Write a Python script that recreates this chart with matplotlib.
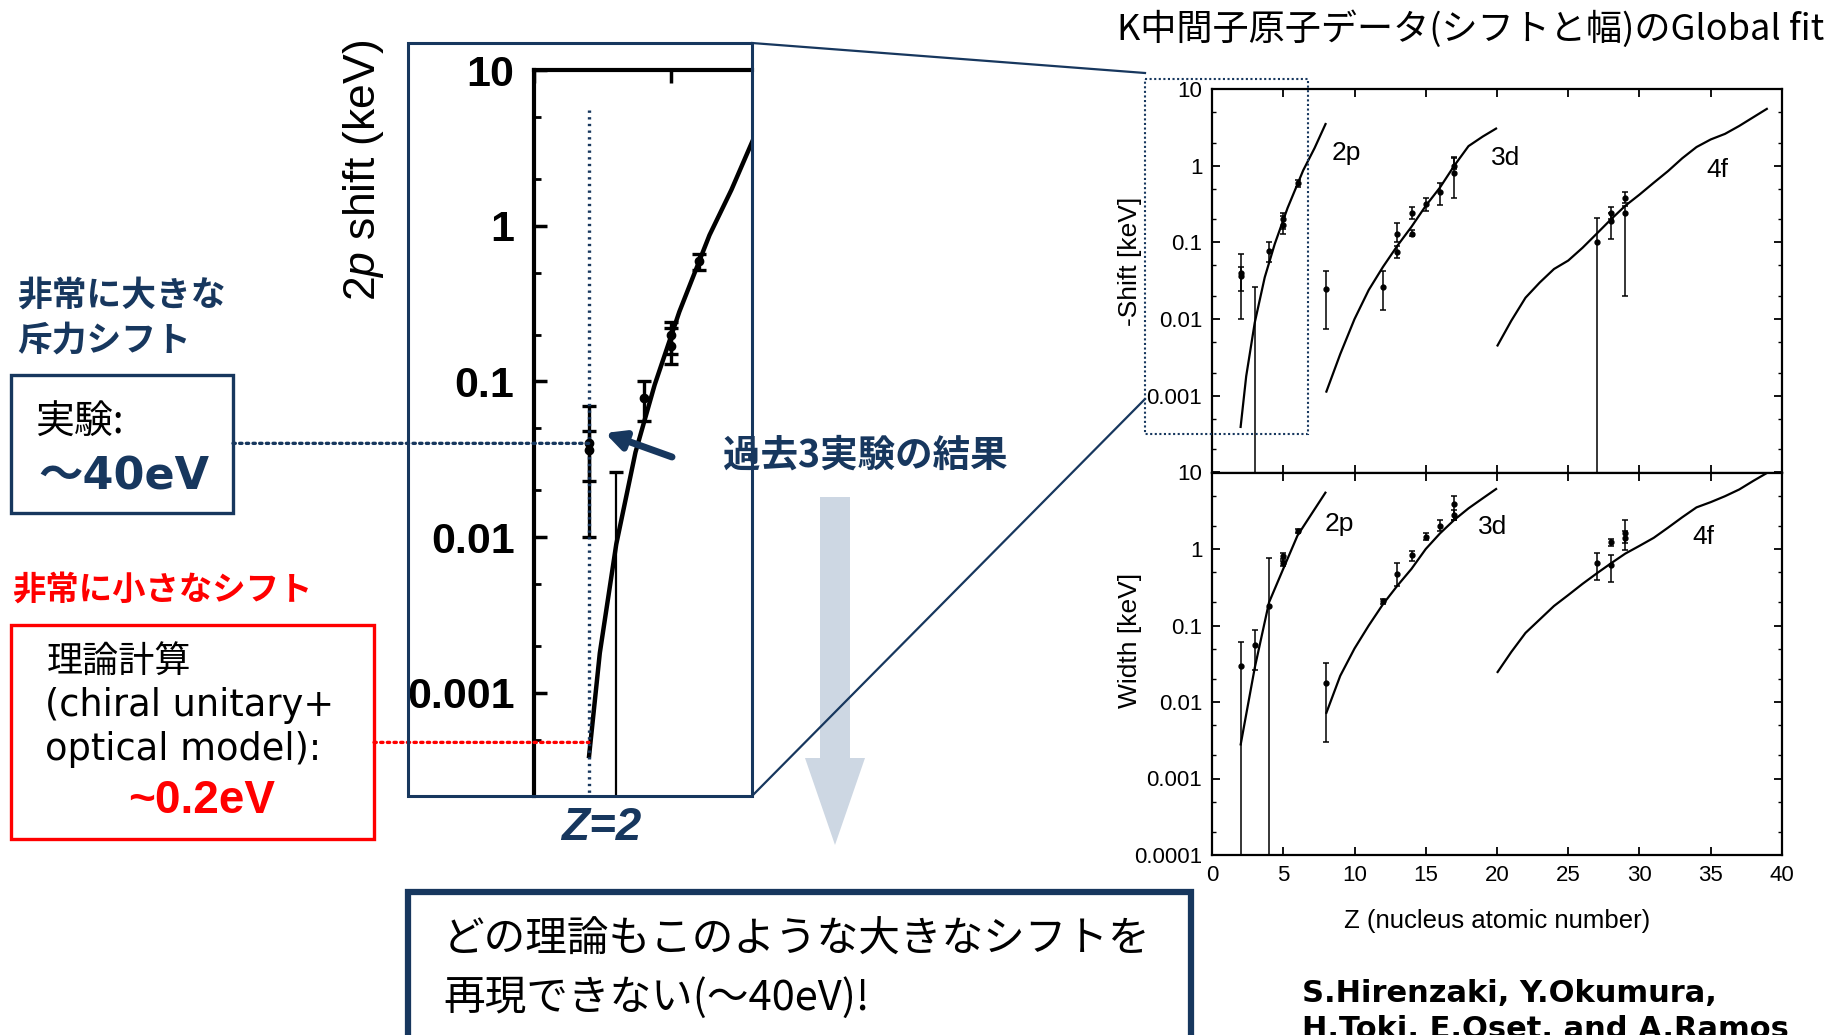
import numpy as np
import matplotlib
matplotlib.use('Agg')
import matplotlib.pyplot as plt
from matplotlib.patches import Rectangle, Polygon, ConnectionPatch
from matplotlib.ticker import FixedLocator, LogLocator, NullFormatter
from matplotlib.transforms import blended_transform_factory

plt.rcParams['font.family'] = ['Liberation Sans', 'DejaVu Sans']
plt.rcParams['mathtext.fontset'] = 'custom'
plt.rcParams['mathtext.rm'] = 'Liberation Sans'
plt.rcParams['mathtext.it'] = 'Liberation Sans:italic'
JP = ['Noto Sans CJK JP', 'DejaVu Sans']
LATIN_JP = ['DejaVu Sans', 'Noto Sans CJK JP']
NAVY = '#17375e'
RED = '#ff0000'

# ---------------- data (keV) ----------------
# calculated curves: -Shift
shift_2p_z = [2, 2.4, 3, 3.7, 4.4, 5.3, 6.4, 7.2, 8]
shift_2p = [0.00038, 0.0018, 0.009, 0.035, 0.095, 0.28, 0.87, 1.7, 3.6]
shift_3d_z = [8, 9, 10, 11, 12, 13, 14, 15, 16, 17, 18, 19, 20]
shift_3d = [0.0011, 0.0035, 0.01, 0.024, 0.048, 0.09, 0.16, 0.3, 0.52, 1.0, 1.8, 2.4, 3.1]
shift_4f_z = list(range(20, 40))
shift_4f = [0.0044, 0.0095, 0.019, 0.03, 0.045, 0.058, 0.085, 0.13, 0.2, 0.3,
            0.42, 0.6, 0.85, 1.25, 1.75, 2.2, 2.6, 3.3, 4.3, 5.6]

# calculated curves: Width
width_2p_z = [2, 3, 4, 5, 6, 7, 8]
width_2p = [0.0027, 0.028, 0.2, 0.55, 1.5, 2.9, 5.6]
width_3d_z = [8, 9, 10, 11, 12, 13, 14, 15, 16, 17, 18, 19, 20]
width_3d = [0.007, 0.022, 0.05, 0.1, 0.19, 0.33, 0.55, 1.0, 1.6, 2.4, 3.4, 4.6, 6.2]
width_4f_z = list(range(20, 40))
width_4f = [0.024, 0.045, 0.08, 0.12, 0.18, 0.25, 0.35, 0.48, 0.65, 0.87,
            1.1, 1.4, 1.9, 2.6, 3.5, 4.1, 4.9, 6.0, 7.8, 10.0]

# measured shifts (value, lower end, upper end); 1e-6 = bar runs off the scale
shift_z = [2, 2, 4, 5, 5, 6, 8, 12, 13, 13, 14, 14, 15, 16, 17, 17, 27, 28, 28, 29, 29]
shift_val = [0.036, 0.040, 0.078, 0.17, 0.20, 0.59, 0.025, 0.026, 0.13, 0.076, 0.24, 0.13,
             0.32, 0.45, 0.8, 1.0, 0.1, 0.24, 0.19, 0.38, 0.24]
shift_lo = [0.01, 0.023, 0.056, 0.13, 0.15, 0.52, 0.0074, 0.013, 0.10, 0.063, 0.2, 0.12,
            0.26, 0.31, 0.38, 0.9, 1e-6, 0.2, 0.11, 0.33, 0.02]
shift_hi = [0.07, 0.048, 0.10, 0.24, 0.22, 0.66, 0.043, 0.042, 0.18, 0.09, 0.29, 0.145,
            0.38, 0.59, 1.3, 1.25, 0.21, 0.29, 0.24, 0.45, 0.3]
# upper limits only (no central value)
shift_lim_z = [3]
shift_lim = [0.026]

# measured widths
width_z = [2, 3, 4, 5, 5, 6, 8, 12, 13, 14, 15, 16, 17, 17, 27, 28, 28, 29, 29]
width_val = [0.03, 0.055, 0.18, 0.8, 0.65, 1.7, 0.0175, 0.21, 0.47, 0.83, 1.45, 2.0, 3.9, 2.8,
             0.65, 0.61, 1.24, 1.6, 1.4]
width_lo = [1e-6, 0.026, 1e-6, 0.7, 0.6, 1.6, 0.003, 0.19, 0.33, 0.7, 1.3, 1.7, 2.4, 2.4,
            0.39, 0.37, 1.1, 0.96, 1.2]
width_hi = [0.061, 0.087, 0.77, 0.9, 0.75, 1.85, 0.032, 0.22, 0.66, 0.95, 1.6, 2.4, 5.0, 3.2,
            0.89, 0.83, 1.35, 2.4, 1.7]

orbit_names = ['2p', '3d', '4f']
shift_lab_z = [9.4, 20.6, 35.5]
shift_lab_v = [1.45, 1.25, 0.87]
width_lab_z = [8.9, 19.7, 34.5]
width_lab_v = [2.15, 1.95, 1.45]

exp_z = 2            # Z=2 (kaonic helium)
exp_val = 0.04       # experiment ~40 eV
theory_val = 0.00048  # theory line level
z_ticks = list(range(0, 41, 5))
dec_ticks = [1e-4, 1e-3, 1e-2, 1e-1, 1, 10]
dec_labels = ['0.0001', '0.001', '0.01', '0.1', '1', '10']
inset_zmax = 7.95

W, H = 1828, 1035
fig = plt.figure(figsize=(W / 100, H / 100), dpi=100)


def px_axes(l, t, r, b):
    return fig.add_axes([l / W, 1 - b / H, (r - l) / W, (b - t) / H])


def draw_data(ax, curves, z, val, lo, hi, lw, elw, cap, ms):
    for cz, cv in curves:
        ax.plot(cz, cv, color='black', lw=lw, solid_capstyle='butt')
    val = np.array(val)
    yerr = [val - np.array(lo), np.array(hi) - val]
    ax.errorbar(z, val, yerr=yerr, fmt='o', color='black', ms=ms, elinewidth=elw,
                capsize=cap, capthick=elw)


def style_right(ax, labels):
    ax.set_xlim(0, 40)
    ax.set_yscale('log')
    ax.set_ylim(1e-4, 10)
    ax.set_xticks(z_ticks)
    ax.yaxis.set_major_locator(FixedLocator(dec_ticks))
    ax.set_yticklabels(labels)
    ax.yaxis.set_minor_locator(LogLocator(base=10, subs=(2, 5)))
    ax.yaxis.set_minor_formatter(NullFormatter())
    ax.tick_params(which='both', direction='in', top=True, right=True, labelsize=16, pad=7)
    ax.tick_params(which='major', length=6, width=1.3)
    ax.tick_params(which='minor', length=3, width=1.0)
    for s in ax.spines.values():
        s.set_linewidth(1.6)


# ---------------- right: global fit panels ----------------
ax_s = px_axes(1212, 89, 1782, 472.5)
draw_data(ax_s, [(shift_2p_z, shift_2p), (shift_3d_z, shift_3d), (shift_4f_z, shift_4f)],
          shift_z, shift_val, shift_lo, shift_hi, 1.6, 1.1, 2.5, 3.5)
ax_s.errorbar(shift_lim_z, shift_lim, yerr=[np.array(shift_lim) - 1e-6, [0] * len(shift_lim)],
              fmt='none', ecolor='black', elinewidth=1.1, capsize=2.5, capthick=1.1)
style_right(ax_s, [''] + dec_labels[1:])
ax_s.tick_params(labelbottom=False)
ax_s.set_ylabel('-Shift [keV]', fontsize=19)
ax_s.yaxis.set_label_coords(-0.122, 0.55)
for n, zz, vv in zip(orbit_names, shift_lab_z, shift_lab_v):
    ax_s.text(zz, vv, n, fontsize=19, ha='center', va='center')

ax_w = px_axes(1212, 472.5, 1782, 855)
draw_data(ax_w, [(width_2p_z, width_2p), (width_3d_z, width_3d), (width_4f_z, width_4f)],
          width_z, width_val, width_lo, width_hi, 1.6, 1.1, 2.5, 3.5)
style_right(ax_w, dec_labels)
ax_w.set_ylabel('Width [keV]', fontsize=19)
ax_w.yaxis.set_label_coords(-0.122, 0.56)
ax_w.set_xlabel('Z (nucleus atomic number)', fontsize=18.5)
ax_w.xaxis.set_label_coords(0.5, -0.14)
for n, zz, vv in zip(orbit_names, width_lab_z, width_lab_v):
    ax_w.text(zz, vv, n, fontsize=19, ha='center', va='center')

# ---------------- left: zoom on Z=2 ----------------
ax_in = px_axes(534, 70, 752, 796)
ax_in.set_facecolor('none')
m = np.array(shift_z) < inset_zmax
draw_data(ax_in, [(shift_2p_z, shift_2p)], np.array(shift_z)[m], np.array(shift_val)[m],
          np.array(shift_lo)[m], np.array(shift_hi)[m], 3.2, 2.4, 5, 6)
ax_in.errorbar(shift_lim_z, shift_lim, yerr=[np.array(shift_lim) - 1e-6, [0] * len(shift_lim)],
               fmt='none', ecolor='black', elinewidth=1.6, capsize=5, capthick=2.4)
ax_in.set_xlim(0, inset_zmax)
ax_in.set_yscale('log')
ax_in.set_ylim(10 ** -3.663, 10)
ax_in.yaxis.set_major_locator(FixedLocator(dec_ticks[1:]))
ax_in.set_yticklabels(dec_labels[1:])
ax_in.yaxis.set_minor_locator(LogLocator(base=10, subs=(2, 5)))
ax_in.yaxis.set_minor_formatter(NullFormatter())
ax_in.xaxis.tick_top()
ax_in.set_xticks([0, 5])
ax_in.tick_params(axis='x', direction='in', length=9, width=2.5, labeltop=False, labelbottom=False)
ax_in.tick_params(axis='y', which='major', direction='in', length=9, width=2.5, pad=14,
                  labelsize=31, right=False)
ax_in.tick_params(axis='y', which='minor', direction='in', length=5, width=2, right=False)
for t in ax_in.get_yticklabels():
    t.set_fontweight('bold')
ax_in.spines['right'].set_visible(False)
ax_in.spines['bottom'].set_visible(False)
ax_in.spines['left'].set_linewidth(3)
ax_in.spines['top'].set_linewidth(3)
ax_in.plot([exp_z, exp_z], [5.5, 1e-4], color=NAVY, lw=2.4, ls=(0, (0.7, 1.3)))

# ---------------- overlay: annotations in pixel coordinates ----------------
ov = fig.add_axes([0, 0, 1, 1])
ov.set_xlim(0, W)
ov.set_ylim(H, 0)
ov.axis('off')
ov.set_zorder(5)

ov.text(1117, 29, 'K中間子原子データ(シフトと幅)のGlobal fit', fontsize=26, family=JP,
        va='center', ha='left')

# zoom box and connecting lines
ov.add_patch(Rectangle((408, 43), 344, 753, fill=False, ec=NAVY, lw=2.2))
ov.add_patch(Rectangle((1145, 79), 163, 355, fill=False, ec=NAVY, lw=1.5, ls=(0, (1, 1.2))))
ov.plot([752, 1145], [43, 73], color=NAVY, lw=1.6)
ov.plot([752, 1145], [796, 399], color=NAVY, lw=1.6, zorder=3)

fig.text(364 / W, 1 - 170 / H, '$2p$ shift (keV)', fontsize=32, rotation=90,
         ha='center', va='center')

# light down arrow
ov.add_patch(Polygon([(820, 497), (850, 497), (850, 758), (865, 758), (835, 845),
                      (805, 758), (820, 758)], closed=True, fc='#cdd7e3', ec='none', zorder=1))

# dark blue arrow pointing at the Z=2 data point
ov.annotate('', xy=(605, 433), xytext=(672, 457),
            arrowprops=dict(arrowstyle='-|>', lw=5, color=NAVY, mutation_scale=28,
                            shrinkA=0, shrinkB=0))
ov.text(723, 455, '過去3実験の結果', fontsize=27, family=JP, fontweight='bold',
        color=NAVY, va='center', ha='left')
ov.text(601, 828, 'Z=2', fontsize=33, fontweight='bold', style='italic', color=NAVY,
        ha='center', va='center')

# left side boxes
ov.text(17, 295, '非常に大きな', fontsize=25, family=JP, fontweight='bold', color=NAVY,
        va='center')
ov.text(17, 340, '斥力シフト', fontsize=25, family=JP, fontweight='bold', color=NAVY,
        va='center')
ov.add_patch(Rectangle((10.5, 375), 222.5, 138, fill=False, ec=NAVY, lw=2.4))
ov.text(35, 423, '実験:', fontsize=28, family=JP, va='center')
ov.text(38, 477, '～40eV', fontsize=32, family=LATIN_JP, fontweight='bold', color=NAVY,
        va='center')

ov.text(12, 590, '非常に小さなシフト', fontsize=24, family=JP, fontweight='bold', color=RED,
        va='center')
ov.add_patch(Rectangle((10.5, 625), 363.5, 214, fill=False, ec=RED, lw=2.4))
ov.text(47, 662, '理論計算', fontsize=26, family=JP, va='center')
ov.text(45, 706, '(chiral unitary+', fontsize=26.5, family=LATIN_JP, va='center')
ov.text(45, 750, 'optical model):', fontsize=26.5, family=LATIN_JP, va='center')
ov.text(128, 801, '~0.2eV', fontsize=33, fontweight='bold', color=RED, va='center')

# dotted guides from the boxes to the Z=2 values
tr_mix = blended_transform_factory(ov.transData, ax_in.transData)
for xb, yv, col in [(233, exp_val, NAVY), (374, theory_val, RED)]:
    cp = ConnectionPatch(xyA=(xb, yv), coordsA=tr_mix, xyB=(exp_z, yv), coordsB=ax_in.transData,
                         color=col, lw=2.4, ls=(0, (0.7, 1.3)))
    fig.add_artist(cp)

# bottom message
ov.add_patch(Rectangle((408, 892), 783, 170, fc='white', ec=NAVY, lw=4.5))
ov.text(443, 940, 'どの理論もこのような大きなシフトを', fontsize=30, family=JP, va='center')
ov.text(443, 998, '再現できない(～40eV)!', fontsize=30, family=JP, va='center')

ov.text(1302, 994, 'S.Hirenzaki, Y.Okumura,', fontsize=22, family='DejaVu Sans',
        fontweight='bold', va='center')
ov.text(1302, 1030, 'H.Toki, E.Oset, and A.Ramos', fontsize=22, family='DejaVu Sans',
        fontweight='bold', va='center')

fig.savefig('out.png', dpi=100)
